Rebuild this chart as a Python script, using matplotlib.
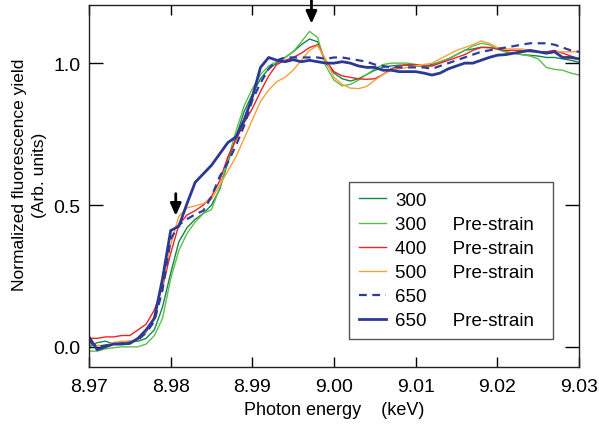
import numpy as np
import matplotlib
matplotlib.use('Agg')
import matplotlib.pyplot as plt

plt.rcParams['font.family'] = ['Liberation Sans', 'DejaVu Sans']

# photon energy grid (keV), one sample per eV
energy = np.round(np.arange(8.970, 9.0305, 0.001), 3)

# normalized fluorescence yield
g300 = [0.0, 0.015, 0.02, 0.01, 0.015, 0.02, 0.02, 0.03, 0.06, 0.14,
        0.26, 0.37, 0.42, 0.45, 0.47, 0.50, 0.555, 0.65, 0.74, 0.83,
        0.89, 0.945, 0.98, 1.0, 1.02, 1.04, 1.065, 1.085, 1.075, 1.0,
        0.965, 0.945, 0.937, 0.945, 0.96, 0.975, 0.985, 0.99, 0.993, 0.993,
        0.99, 0.99, 0.995, 1.005, 1.015, 1.03, 1.045, 1.05, 1.056, 1.055,
        1.05, 1.04, 1.035, 1.03, 1.028, 1.025, 1.02, 1.02, 1.015, 1.01, 1.003]
g300_pre = [-0.015, -0.015, -0.007, -0.003, 0.0, 0.0, 0.0, 0.01, 0.04, 0.10,
            0.24, 0.34, 0.40, 0.44, 0.47, 0.484, 0.56, 0.66, 0.76, 0.85,
            0.91, 0.96, 0.99, 1.005, 1.02, 1.04, 1.075, 1.112, 1.09, 0.99,
            0.94, 0.92, 0.925, 0.94, 0.96, 0.98, 0.995, 1.0, 1.0, 1.0,
            0.995, 0.99, 0.99, 1.005, 1.015, 1.03, 1.045, 1.06, 1.07, 1.065,
            1.05, 1.04, 1.035, 1.03, 1.025, 1.015, 0.985, 0.978, 0.975, 0.965, 0.958]
r400_pre = [0.03, 0.03, 0.035, 0.035, 0.04, 0.04, 0.06, 0.08, 0.13, 0.21,
            0.33, 0.43, 0.465, 0.48, 0.50, 0.53, 0.585, 0.67, 0.73, 0.79,
            0.84, 0.90, 0.955, 0.995, 1.01, 1.02, 1.035, 1.055, 1.065, 1.01,
            0.97, 0.955, 0.95, 0.945, 0.943, 0.945, 0.96, 0.98, 0.99, 0.995,
            0.995, 0.99, 0.99, 1.0, 1.01, 1.02, 1.03, 1.045, 1.055, 1.055,
            1.05, 1.045, 1.045, 1.045, 1.04, 1.04, 1.04, 1.045, 1.035, 1.025, 1.015]
o500_pre = [0.01, 0.005, 0.005, 0.015, 0.02, 0.02, 0.025, 0.05, 0.11, 0.22,
            0.36, 0.46, 0.49, 0.497, 0.505, 0.52, 0.57, 0.62, 0.67, 0.735,
            0.80, 0.865, 0.905, 0.935, 0.95, 0.975, 1.01, 1.045, 1.062, 1.01,
            0.95, 0.925, 0.912, 0.91, 0.918, 0.94, 0.96, 0.975, 0.98, 0.985,
            0.99, 0.995, 1.0, 1.015, 1.03, 1.045, 1.055, 1.065, 1.078, 1.07,
            1.055, 1.05, 1.05, 1.05, 1.045, 1.04, 1.035, 1.04, 1.04, 1.04, 1.04]
b650 = [0.02, 0.0, 0.005, 0.01, 0.01, 0.015, 0.025, 0.05, 0.09, 0.20,
        0.38, 0.43, 0.45, 0.467, 0.48, 0.53, 0.60, 0.65, 0.71, 0.78,
        0.87, 0.93, 0.98, 1.01, 1.02, 1.02, 1.02, 1.02, 1.02, 1.015,
        1.02, 1.02, 1.015, 1.01, 1.005, 0.995, 0.99, 0.985, 0.985, 0.985,
        0.985, 0.985, 0.98, 0.99, 1.0, 1.01, 1.02, 1.03, 1.04, 1.045,
        1.05, 1.055, 1.06, 1.065, 1.07, 1.07, 1.07, 1.065, 1.055, 1.045, 1.04]
b650_pre = [0.035, -0.01, 0.0, 0.01, 0.01, 0.012, 0.03, 0.06, 0.10, 0.24,
            0.41, 0.425, 0.505, 0.58, 0.61, 0.64, 0.68, 0.72, 0.74, 0.80,
            0.88, 0.985, 1.02, 1.01, 1.005, 1.012, 1.005, 1.01, 1.005, 1.0,
            1.0, 1.005, 1.0, 0.99, 0.985, 0.985, 0.975, 0.975, 0.97, 0.97,
            0.97, 0.965, 0.958, 0.965, 0.98, 0.99, 1.0, 1.0, 1.01, 1.02,
            1.028, 1.03, 1.035, 1.04, 1.045, 1.04, 1.035, 1.04, 1.02, 1.02, 1.015]

series = [
    (g300, '300', '#11874a', '-', 1.0),
    (g300_pre, '300     Pre-strain', '#5cbd4c', '-', 1.0),
    (r400_pre, '400     Pre-strain', '#ec2227', '-', 1.0),
    (o500_pre, '500     Pre-strain', '#f8a03c', '-', 1.0),
    (b650, '650', '#2e3d9a', (0, (3.5, 2.5)), 1.6),
    (b650_pre, '650     Pre-strain', '#2b3894', '-', 2.0),
]

fig = plt.figure(figsize=(5.99, 4.27), dpi=100)
ax = fig.add_axes([0.1486, 0.1375, 0.818, 0.8485])

for ys, lab, col, ls, lw in series:
    ax.plot(energy, ys, color=col, linestyle=ls, linewidth=lw, label=lab)

ax.set_xlim(8.97, 9.03)
ax.set_ylim(-0.072, 1.205)
ax.set_xticks([8.97, 8.98, 8.99, 9.00, 9.01, 9.02, 9.03])
ax.set_xticklabels(['8.97', '8.98', '8.99', '9.00', '9.01', '9.02', '9.03'])
ax.set_yticks([0.0, 0.5, 1.0])
ax.set_yticklabels(['0.0', '0.5', '1.0'])
ax.tick_params(axis='x', direction='in', top=True, length=7, width=1, labelsize=14, pad=8)
ax.tick_params(axis='y', direction='in', right=True, length=10, width=1, labelsize=14, pad=6)
for sp in ax.spines.values():
    sp.set_linewidth(1.0)
    sp.set_color('#222222')

ax.set_xlabel('Photon energy    (keV)', fontsize=13, labelpad=4)
fig.text(29.5 / 599, 1 - 175 / 427, 'Normalized fluorescence yield\n(Arb. units)',
         rotation=90, ha='center', va='center', fontsize=12.5, linespacing=1.45,
         multialignment='center')

leg = ax.legend(loc='upper left', bbox_to_anchor=(0.5306, 0.0726, 0.4164, 0.4389),
                mode='expand', borderaxespad=0, fontsize=13.5, handlelength=1.44,
                handletextpad=0.5, labelspacing=0.37, borderpad=0.53,
                fancybox=False, framealpha=1)
leg.get_frame().set_edgecolor('#555555')
leg.get_frame().set_linewidth(1.0)

# arrows marking the shoulder and the white line
arrow = dict(arrowstyle='-|>,head_length=0.45,head_width=0.2', color='black',
             lw=2, mutation_scale=16, shrinkA=0, shrinkB=0)
ax.annotate('', xy=(8.99724, 1.139), xytext=(8.99724, 1.222),
            arrowprops=arrow, annotation_clip=False)
ax.annotate('', xy=(8.98062, 0.462), xytext=(8.98062, 0.54),
            arrowprops=arrow, annotation_clip=False)

fig.savefig('out.png', dpi=100)
